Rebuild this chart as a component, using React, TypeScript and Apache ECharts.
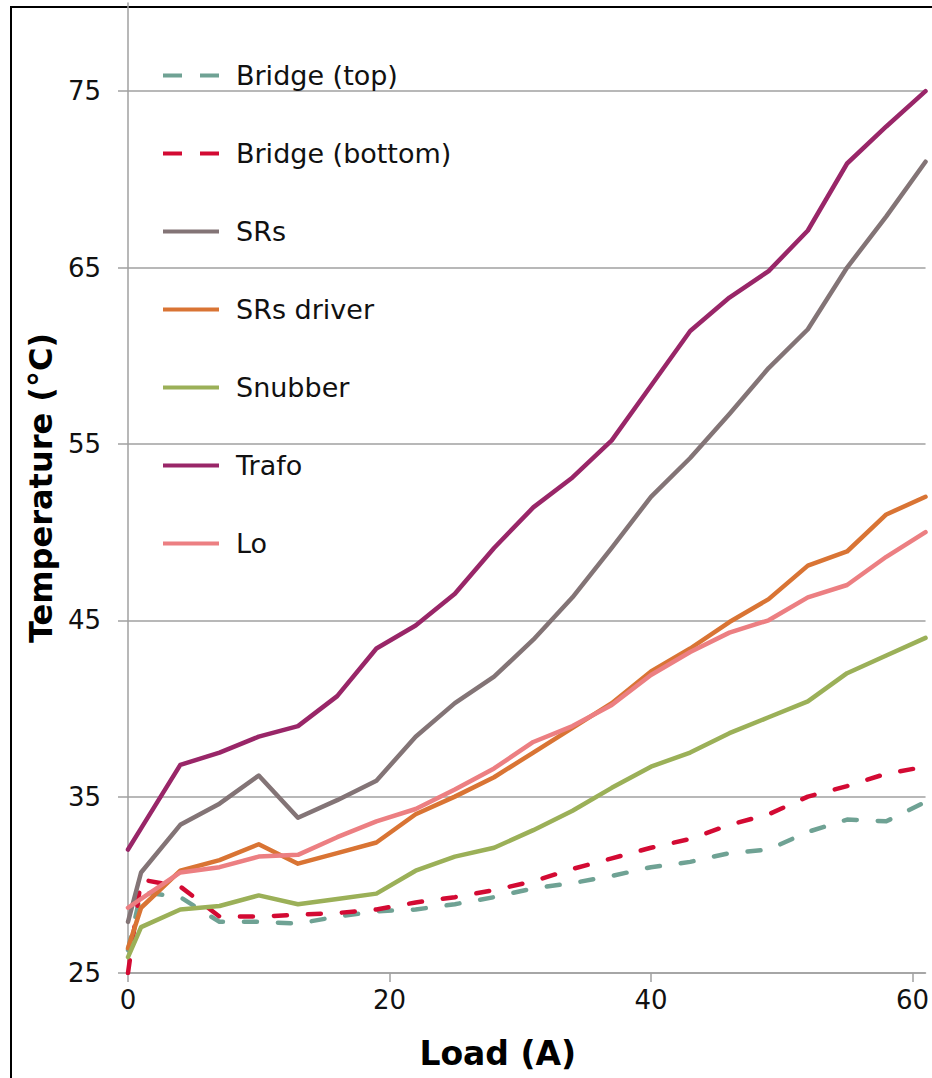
import React, { useEffect, useRef } from "react";
import * as echarts from "echarts";

const loadA = [0, 1, 4, 7, 10, 13, 16, 19, 22, 25, 28, 31, 34, 37, 40, 43, 46, 49, 52, 55, 58, 61];
const bridgeTop = [26.3, 29.6, 29.3, 27.9, 27.9, 27.8, 28.2, 28.5, 28.6, 28.9, 29.3, 29.8, 30.1, 30.5, 31.0, 31.3, 31.8, 32.0, 33.0, 33.7, 33.6, 34.7];
const bridgeBottom = [25.0, 30.3, 29.9, 28.2, 28.2, 28.3, 28.4, 28.6, 29.0, 29.3, 29.7, 30.2, 30.9, 31.5, 32.1, 32.6, 33.4, 34.0, 35.0, 35.6, 36.3, 36.7];
const srs = [27.9, 30.7, 33.4, 34.6, 36.2, 33.8, 34.8, 35.9, 38.4, 40.3, 41.8, 43.9, 46.3, 49.1, 52.0, 54.2, 56.7, 59.3, 61.5, 65.0, 67.9, 71.0];
const srsDriver = [26.4, 28.7, 30.8, 31.4, 32.3, 31.2, 31.8, 32.4, 34.0, 35.0, 36.1, 37.5, 38.9, 40.3, 42.1, 43.4, 44.9, 46.2, 48.1, 48.9, 51.0, 52.0];
const snubber = [25.9, 27.6, 28.6, 28.8, 29.4, 28.9, 29.2, 29.5, 30.8, 31.6, 32.1, 33.1, 34.2, 35.5, 36.7, 37.5, 38.6, 39.5, 40.4, 42.0, 43.0, 44.0];
const trafo = [32.0, 33.2, 36.8, 37.5, 38.4, 39.0, 40.7, 43.4, 44.7, 46.5, 49.1, 51.4, 53.1, 55.2, 58.3, 61.4, 63.3, 64.8, 67.1, 70.9, 73.0, 75.0];
const lo = [28.7, 29.2, 30.7, 31.0, 31.6, 31.7, 32.7, 33.6, 34.3, 35.4, 36.6, 38.1, 39.0, 40.2, 41.9, 43.2, 44.3, 45.0, 46.3, 47.0, 48.6, 50.0];

const seriesNames = ["Bridge (top)", "Bridge (bottom)", "SRs", "SRs driver", "Snubber", "Trafo", "Lo"];
const seriesValues = [bridgeTop, bridgeBottom, srs, srsDriver, snubber, trafo, lo];
const seriesColors = ["#6fa294", "#d30a33", "#837476", "#d97434", "#9bb058", "#992668", "#ec7f82"];
const seriesDashed = [true, true, false, false, false, false, false];

const xTicks = [0, 20, 40, 60];
const yTicks = [25, 35, 45, 55, 65, 75];

const FONT = 'Verdana, "DejaVu Sans", sans-serif';
const ICON_DASHED = "path://M0,0h19v4h-19z M37,0h19v4h-19z";
const ICON_SOLID = "path://M0,0h56v4h-56z";

export default function App() {
  const ref = useRef<HTMLDivElement>(null);
  useEffect(() => {
    document.body.style.margin = "0";
    const chart = echarts.init(ref.current!, null, { renderer: "svg" });
    const series = seriesNames.map((name, i) => ({
      name,
      type: "line",
      data: loadA.map((x, j) => [x, seriesValues[i][j]]),
      symbol: "none",
      showSymbol: false,
      color: seriesColors[i],
      lineStyle: {
        color: seriesColors[i],
        width: 4.5,
        type: seriesDashed[i] ? [13, 21] : "solid",
        cap: "round",
        join: "round",
      },
      emphasis: { disabled: true },
    }));
    chart.setOption({
      animation: false,
      textStyle: { fontFamily: FONT },
      grid: { left: 128, right: 6, top: 3, bottom: 105, containLabel: false },
      graphic: [
        {
          type: "rect",
          shape: { x: 11, y: 7, width: 1000, height: 1200 },
          style: { fill: "none", stroke: "#000", lineWidth: 2 },
          z: -1,
          silent: true,
        },
      ],
      legend: {
        orient: "vertical",
        left: 158,
        top: 57,
        itemWidth: 56,
        itemHeight: 4,
        itemGap: 51,
        data: seriesNames.map((name, i) => ({
          name,
          icon: seriesDashed[i] ? ICON_DASHED : ICON_SOLID,
          itemStyle: { color: seriesColors[i] },
        })),
        textStyle: { fontSize: 27, color: "#111", fontFamily: FONT, padding: [0, 0, 0, 12], lineHeight: 26 },
        selectedMode: false,
      },
      xAxis: {
        type: "value",
        min: 0,
        max: 61,
        interval: 20,
        name: "Load (A)",
        nameLocation: "middle",
        nameGap: 64,
        nameTextStyle: { fontSize: 33, fontWeight: "bold", color: "#000", fontFamily: FONT, padding: [0, 58, 0, 0] },
        axisLine: { show: true, lineStyle: { color: "#a0a0a0", width: 1.5 } },
        axisTick: { show: true, length: 9, lineStyle: { color: "#a0a0a0", width: 1.5 }, customValues: xTicks },
        axisLabel: { fontSize: 26, color: "#111", margin: 14, customValues: xTicks },
        splitLine: { show: false },
      },
      yAxis: {
        type: "value",
        min: 25,
        max: 80,
        interval: 10,
        name: "Temperature (°C)",
        nameLocation: "middle",
        nameGap: 53,
        nameRotate: 90,
        nameTextStyle: { fontSize: 32, fontWeight: "bold", color: "#000", fontFamily: FONT },
        axisLine: { show: true, lineStyle: { color: "#a0a0a0", width: 1.5 } },
        axisTick: { show: true, length: 10, lineStyle: { color: "#a0a0a0", width: 1.5 }, customValues: yTicks },
        axisLabel: { fontSize: 26, color: "#111", margin: 27, customValues: yTicks },
        splitLine: { show: true, lineStyle: { color: "#a0a0a0", width: 1.5 } },
      },
      series,
    });
    return () => chart.dispose();
  }, []);
  return <div ref={ref} style={{ width: 932, height: 1078 }} />;
}
